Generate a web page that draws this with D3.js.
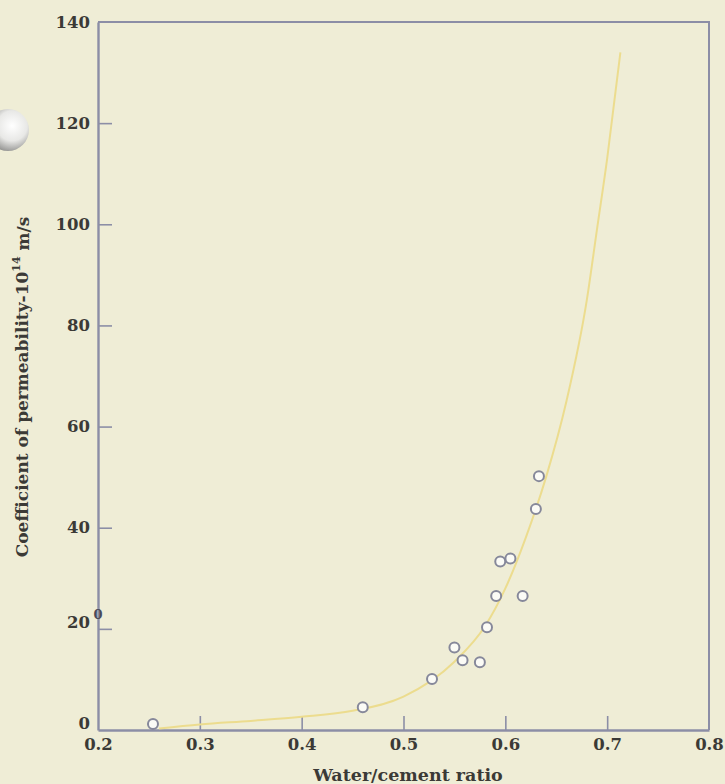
<!DOCTYPE html>
<html>
<head>
<meta charset="utf-8">
<script src="https://cdn.jsdelivr.net/npm/d3@7"></script>
<style>
  body { margin: 0; background: #efedd6; }
  svg { display: block; }
</style>
</head>
<body>
<svg id="canvas"></svg>
<script>
// measured points: water/cement ratio vs permeability (x1e-14 m/s)
let wcRatio = [0.254, 0.46, 0.528, 0.55, 0.558, 0.575, 0.582, 0.591, 0.595, 0.605, 0.617, 0.630, 0.633]
let permeability = [1.2, 4.5, 10.1, 16.3, 13.8, 13.4, 20.3, 26.5, 33.3, 33.9, 26.5, 43.7, 50.2]

// fitted curve
let curveX = [0.26, 0.30, 0.35, 0.40, 0.45, 0.50, 0.55, 0.58, 0.60, 0.62, 0.64, 0.66, 0.68, 0.69, 0.70, 0.713]
let curveY = [0.3, 1.1, 1.8, 2.6, 3.8, 6.6, 13.5, 20.5, 28, 38, 50, 65, 85, 99, 113, 134]

let xTicks = [0.2, 0.3, 0.4, 0.5, 0.6, 0.7, 0.8]
let yTicks = [0, 20, 40, 60, 80, 100, 120, 140]

let width = 725
let height = 784
let padLeft = 98, padRight = 709, padTop = 22, padBottom = 730

let axisColor = '#8c8ea6'
let textColor = '#3b3a36'
let font = '"DejaVu Serif", serif'

let svg = d3.select('#canvas').attr('width', width).attr('height', height)

// paper + punch hole
svg.append('rect').attr('width', width).attr('height', height).attr('fill', '#efedd6')
let defs = svg.append('defs')
let grad = defs.append('radialGradient').attr('id', 'hole').attr('cx', '0.6').attr('cy', '0.4').attr('r', '0.65')
grad.append('stop').attr('offset', '0%').attr('stop-color', '#ffffff')
grad.append('stop').attr('offset', '55%').attr('stop-color', '#e8e8e6')
grad.append('stop').attr('offset', '100%').attr('stop-color', '#8e8e8c')
svg.append('circle').attr('cx', 8).attr('cy', 130).attr('r', 21).attr('fill', 'url(#hole)')

let xScale = d3.scaleLinear().domain([0.2, 0.8]).range([padLeft, padRight])
let yScale = d3.scaleLinear().domain([0, 140]).range([padBottom, padTop])

// frame top and right
svg.append('path')
   .attr('d', `M${padLeft},${padTop}H${padRight}V${padBottom}`)
   .attr('fill', 'none').attr('stroke', axisColor).attr('stroke-width', 2)

let xAxis = d3.axisBottom(xScale).tickValues(xTicks).tickFormat(d3.format('.1f'))
              .tickSizeInner(-14).tickSizeOuter(0).tickPadding(8)
let gx = svg.append('g').attr('transform', `translate(0,${padBottom})`).call(xAxis)

let yAxis = d3.axisLeft(yScale).tickValues(yTicks).tickFormat(d3.format('d'))
              .tickSizeInner(-14).tickSizeOuter(0).tickPadding(8)
let gy = svg.append('g').attr('transform', `translate(${padLeft},0)`).call(yAxis)

;[gx, gy].forEach(g => {
    g.select('.domain').attr('stroke', axisColor).attr('stroke-width', 2.4)
    g.selectAll('.tick line').attr('stroke', axisColor).attr('stroke-width', 1.6)
    g.selectAll('.tick text')
     .attr('fill', textColor).attr('font-family', font)
     .attr('font-weight', 'bold').attr('font-size', 16.5)
})
// corner ticks hidden by the frame
gx.selectAll('.tick line').filter(d => d === 0.2 || d === 0.8).remove()
gy.selectAll('.tick line').filter(d => d === 0 || d === 140).remove()
gy.selectAll('.tick text').attr('dy', d => d < 30 ? '-0.1em' : '0.32em')

// the stray mark next to 20
svg.append('text').attr('x', padLeft).attr('y', yScale(20) - 10)
   .attr('text-anchor', 'middle').attr('font-family', font).attr('font-weight', 'bold')
   .attr('font-size', 13).attr('fill', '#4a4a58').text('0')

// curve
let line = d3.line().x(d => xScale(d[0])).y(d => yScale(d[1])).curve(d3.curveMonotoneX)
svg.append('path')
   .datum(d3.zip(curveX, curveY))
   .attr('d', line)
   .attr('fill', 'none').attr('stroke', '#ecdc8e').attr('stroke-width', 2)

// points
svg.append('g').selectAll('circle')
   .data(d3.zip(wcRatio, permeability))
   .join('circle')
   .attr('cx', d => xScale(d[0])).attr('cy', d => yScale(d[1]))
   .attr('r', 5)
   .attr('fill', '#fbfbf6').attr('stroke', '#86889a').attr('stroke-width', 2)

// axis titles
svg.append('text').attr('x', 408).attr('y', 781)
   .attr('text-anchor', 'middle').attr('font-family', font).attr('font-weight', 'bold')
   .attr('font-size', 17.5).attr('fill', textColor).text('Water/cement ratio')

let yTitle = svg.append('text')
   .attr('transform', `translate(28,387) rotate(-90)`)
   .attr('text-anchor', 'middle').attr('font-family', font).attr('font-weight', 'bold')
   .attr('font-size', 17).attr('fill', textColor)
yTitle.append('tspan').text('Coefficient of permeability-10')
yTitle.append('tspan').attr('font-size', 11).attr('dy', '-0.7em').text('14')
yTitle.append('tspan').attr('dy', '0.5em').text(' m/s')
</script>
</body>
</html>
